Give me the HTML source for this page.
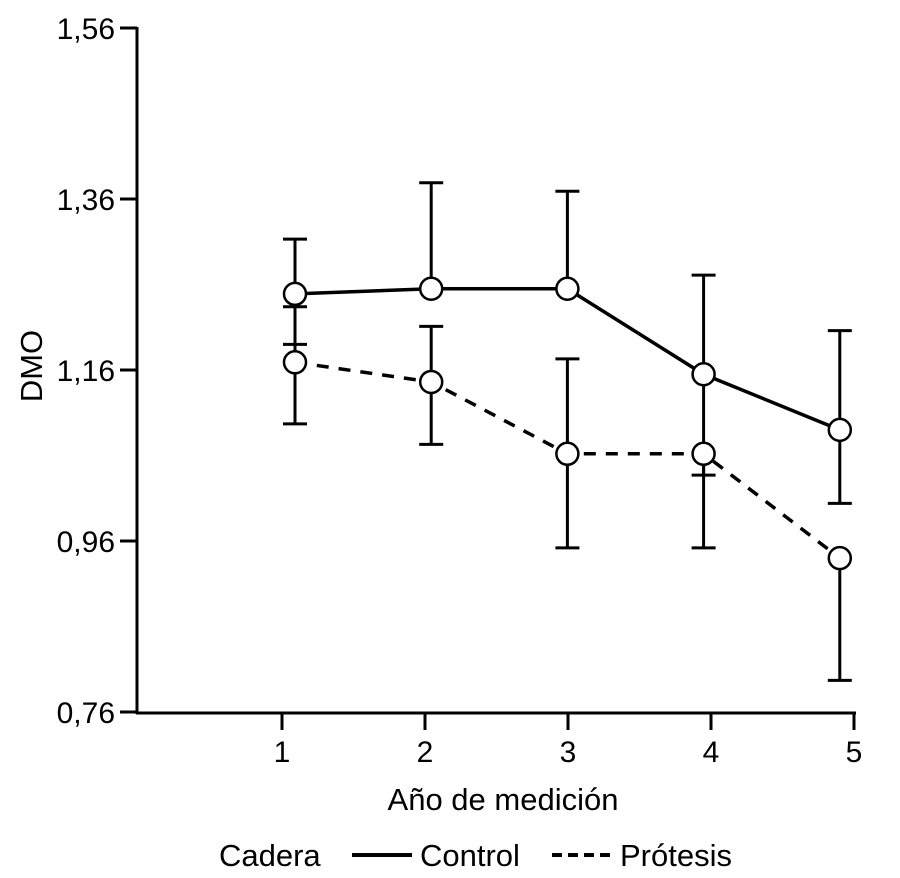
<!DOCTYPE html>
<html><head><meta charset="utf-8"><style>
html,body{margin:0;padding:0;background:#fff;}
svg{display:block;font-family:"Liberation Sans",Arial,sans-serif;}
</style></head><body>
<svg id="chart" width="900" height="878" viewBox="0 0 900 878"></svg>
<script>
const years=[1,2,3,4,5];
const yTicks=[0.76,0.96,1.16,1.36,1.56];
const yTickLabels=["0,76","0,96","1,16","1,36","1,56"];
const controlMean=[1.249,1.255,1.255,1.155,1.090];
const controlUpper=[1.313,1.379,1.369,1.271,1.206];
const controlLower=[1.190,null,null,1.037,1.004];
const protMean=[1.169,1.146,1.062,1.062,0.940];
const protUpper=[1.234,1.211,1.173,null,null];
const protLower=[1.097,1.073,0.952,0.952,0.797];

const NS="http://www.w3.org/2000/svg";
const svg=document.getElementById('chart');
function yS(v){return 28+(1.56-v)*855;}
function xTick(i){return 282+(i-1)*143;}
function xPt(i){return 295+(i-1)*136.2;}
function mk(tag,attrs,parent){const e=document.createElementNS(NS,tag);for(const k in attrs)e.setAttribute(k,attrs[k]);(parent||svg).appendChild(e);return e;}

let ya=mk('line',{x1:137,y1:27,x2:137,y2:714,stroke:'#000','stroke-width':3});


let xa=mk('line',{x1:136,y1:713,x2:856,y2:713,stroke:'#000','stroke-width':3});



yTicks.forEach((t,i)=>{
  const y=yS(t);
  const l=mk('line',{x1:120,y1:y,x2:137,y2:y,stroke:'#000','stroke-width':3});
  
  
  const tx=mk('text',{x:115,y:y+11,'text-anchor':'end','font-size':30});
  tx.textContent=yTickLabels[i];
  
  
});
years.forEach(yr=>{
  const x=xTick(yr);
  const l=mk('line',{x1:x,y1:713,x2:x,y2:730,stroke:'#000','stroke-width':3});
  
  
  const tx=mk('text',{x:x,y:762,'text-anchor':'middle','font-size':30});
  tx.textContent=String(yr);
  
  
});

let yt=mk('text',{x:42,y:366,'text-anchor':'middle','font-size':31,transform:'rotate(-90 42 366)'});
yt.textContent='DMO';


let xt=mk('text',{x:503,y:810,'text-anchor':'middle','font-size':31});
xt.textContent='Año de medición';



function errBars(mean,up,lo,name){
  years.forEach((yr,i)=>{
    const x=xPt(yr);
    const top=up[i]!=null?yS(up[i]):yS(mean[i]);
    const bot=lo[i]!=null?yS(lo[i]):yS(mean[i]);
    const l=mk('line',{x1:x,y1:top,x2:x,y2:bot,stroke:'#000','stroke-width':3});
    
    
    [up[i],lo[i]].forEach(v=>{if(v==null)return;
      const c=mk('line',{x1:x-12,y1:yS(v),x2:x+12,y2:yS(v),stroke:'#000','stroke-width':3});
      
      
    });
  });
}
errBars(controlMean,controlUpper,controlLower,'control');
errBars(protMean,protUpper,protLower,'protesis');

function series(mean,dash,name){
  const p=mk('polyline',{points:years.map((yr,i)=>xPt(yr)+','+yS(mean[i])).join(' '),fill:'none',stroke:'#000','stroke-width':3.5,'stroke-dasharray':dash});
  
  
}
function points(mean,name){
  years.forEach((yr,i)=>{
    const c=mk('circle',{cx:xPt(yr),cy:yS(mean[i]),r:11,fill:'#fff',stroke:'#000','stroke-width':2.5});
    
    
  });
}
series(controlMean,'none','control');
series(protMean,'12 10','protesis');
points(controlMean,'control');
points(protMean,'protesis');

let lg=mk('g',{});


let lt=mk('text',{x:219,y:866,'font-size':31},lg);
lt.textContent='Cadera';


let l1=mk('line',{x1:352,y1:855,x2:412,y2:855,stroke:'#000','stroke-width':4},lg);


let t1=mk('text',{x:420,y:866,'font-size':31},lg);
t1.textContent='Control';


let l2=mk('line',{x1:552,y1:855,x2:612,y2:855,stroke:'#000','stroke-width':4,'stroke-dasharray':'10 6'},lg);


let t2=mk('text',{x:620,y:866,'font-size':31},lg);
t2.textContent='Prótesis';


</script>
</body></html>
